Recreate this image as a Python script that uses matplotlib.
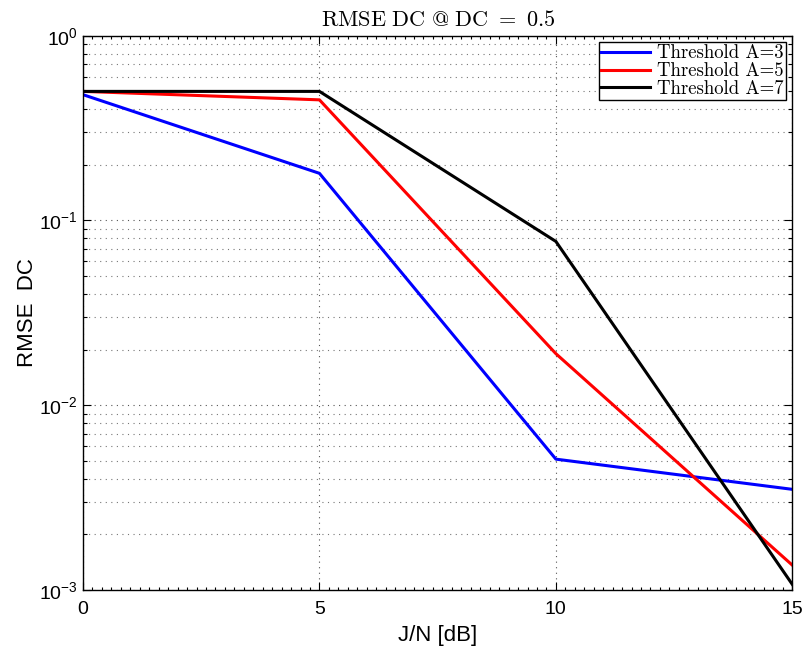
import numpy as np
import matplotlib
matplotlib.use("Agg")
import matplotlib.pyplot as plt
from matplotlib.ticker import MultipleLocator, LogLocator, NullFormatter
from matplotlib.font_manager import FontProperties

# data
jn_db = [0, 5, 10, 15]
rmse_a3 = [0.48, 0.18, 0.0051, 0.0035]
rmse_a5 = [0.50, 0.45, 0.019, 0.00136]
rmse_a7 = [0.50, 0.50, 0.077, 0.00107]
labels = ["Threshold A=3", "Threshold A=5", "Threshold A=7"]
colors = ["#0000ff", "#ff0000", "#000000"]

plt.rcParams["font.family"] = ["Liberation Sans", "DejaVu Sans"]
plt.rcParams["mathtext.fontset"] = "custom"
plt.rcParams["mathtext.rm"] = "Liberation Sans"
plt.rcParams["mathtext.it"] = "Liberation Sans:italic"
plt.rcParams["mathtext.bf"] = "Liberation Sans:bold"
plt.rcParams["axes.unicode_minus"] = False

fig = plt.figure(figsize=(8.06, 6.51), dpi=100)
ax = fig.add_axes([0.103, 0.094, 0.880, 0.851])

for ys, c, lab in zip([rmse_a3, rmse_a5, rmse_a7], colors, labels):
    ax.plot(jn_db, ys, color=c, lw=2.2, label=lab)

ax.set_yscale("log")
ax.set_xlim(0, 15)
ax.set_ylim(1e-3, 1)
ax.xaxis.set_major_locator(MultipleLocator(5))
ax.xaxis.set_minor_locator(MultipleLocator(0.2))
ax.yaxis.set_major_locator(LogLocator(base=10, numticks=10))
ax.yaxis.set_minor_locator(LogLocator(base=10, subs=np.arange(2, 10), numticks=20))
ax.yaxis.set_minor_formatter(NullFormatter())

ax.grid(True, which="major", axis="both", linestyle=(0, (1, 4)), color="#555555", lw=0.8)
ax.grid(True, which="minor", axis="y", linestyle=(0, (1, 4)), color="#777777", lw=0.8)

ax.tick_params(which="both", direction="in", top=True, right=True, labelsize=14, width=0.8)
ax.tick_params(which="major", length=6)
ax.tick_params(which="minor", length=3)
ax.tick_params(axis="x", which="minor", length=2)
ax.tick_params(axis="x", pad=8)
for s in ax.spines.values():
    s.set_linewidth(1.0)

ax.set_xlabel("J/N [dB]", fontsize=16, labelpad=5)
ax.set_ylabel("RMSE  DC", fontsize=16, labelpad=1)
ax.set_title(r"$\mathrm{RMSE\ DC\ @\ DC\ =\ 0.5}$", fontsize=16, math_fontfamily="cm", pad=7)

leg = ax.legend(loc="upper right", prop=FontProperties(family="cmr10", size=13.5),
                fancybox=False, edgecolor="black", framealpha=1, borderpad=0.1,
                labelspacing=0.0, handlelength=2.6, handletextpad=0.4,
                borderaxespad=0.35)
leg.get_frame().set_linewidth(1.0)

fig.savefig("out.png", dpi=100)
